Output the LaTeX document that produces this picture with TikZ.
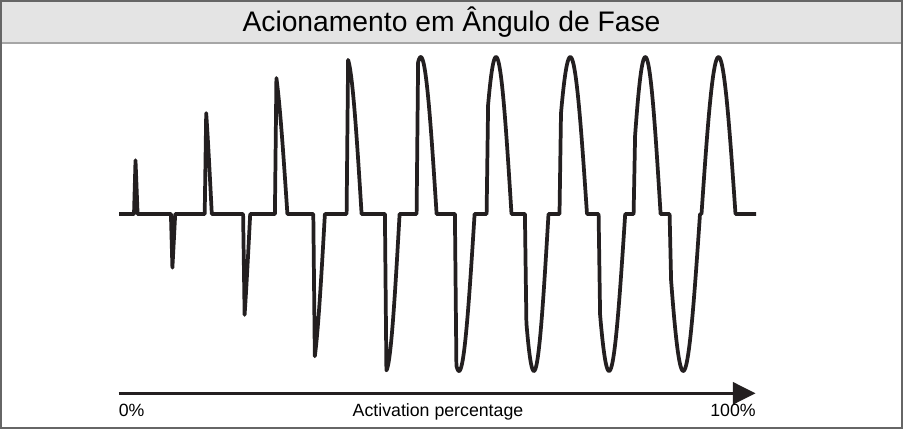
\documentclass[tikz,border=0pt]{standalone}
\usepackage{fontspec}
\setmainfont{Liberation Sans}
\usetikzlibrary{arrows.meta}
\definecolor{ink}{HTML}{231F20}
\definecolor{framegray}{HTML}{666666}
\definecolor{headfill}{HTML}{E4E4E4}
\definecolor{headline}{HTML}{A6A6A6}
\tikzset{
  wave/.style={draw=ink, line width=2.8pt, line join=round},
  axisline/.style={draw=ink, line width=2.3pt, -{Triangle[length=17pt,width=16.5pt]}},
  lbl/.style={font=\fontsize{13.3}{15}\selectfont, text=black, inner sep=0pt},
  titlelbl/.style={font=\fontsize{21.2}{24}\selectfont, text=black, inner sep=0pt}
}
\begin{document}
\begin{tikzpicture}[x=0.75pt,y=-0.75pt]
\useasboundingbox (0,0) rectangle (903,430);
% header
\fill[headfill] (0,0) rectangle (903,42.5);
\draw[headline, line width=1.2pt] (1.5,42.8) -- (901.5,42.8);
% frame
\draw[framegray, line width=1.35pt] (0.9,0.9) rectangle (902.1,428.1);
\node[titlelbl, anchor=base] (title) at (451.5,31) {Acionamento em Ângulo de Fase};
% waveform
\draw[wave] (119,214)
  foreach \xs/\xe/\ph/\s in {
    134.0/137.6/160/1, 170.9/175.2/160/-1,
    204.7/211.8/140/1, 243.1/250.2/140/-1,
    274.9/287.4/120/1, 313.3/324.9/115/-1,
    346.6/361.6/101/1, 384.9/399.6/95/-1,
    416.6/436.6/75/1, 454.9/474.6/75/-1,
    486.6/511.5/44/1, 524.9/548.5/44/-1,
    559.5/587.0/40/1, 598.6/625.2/40/-1,
    633.6/660.6/30/1, 669.6/700.0/25/-1,
    701.5/735.5/8/1}
  { -- (\xs,214)
    -- plot[domain=\ph:180, samples=40, variable=\t]
       ({\xs+1.5+(\t-\ph)/(180-\ph)*(\xe-\xs-1.5)}, {214-(\s)*157*sin(\t)}) }
  -- (756,214);
% axis
\coordinate (ax0) at (118.5,393.3);
\coordinate (ax1) at (755.5,393.3);
\draw[axisline] (ax0) -- (ax1);
\node[lbl, anchor=base west] (p0) at (118.5,416) {0\%};
\node[lbl, anchor=base] (pmid) at (438,416) {Activation percentage};
\node[lbl, anchor=base east] (p100) at (756,416) {100\%};
\end{tikzpicture}
\end{document}
